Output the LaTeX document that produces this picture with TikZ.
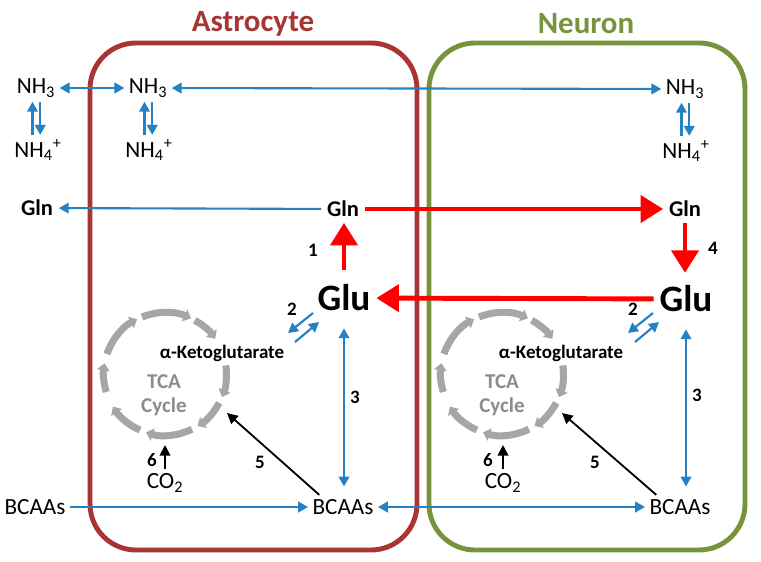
\documentclass[tikz,border=0pt]{standalone}
\usepackage{fontspec}
\setmainfont{Carlito}
\usetikzlibrary{arrows.meta}
\definecolor{astro}{HTML}{A83434}
\definecolor{neur}{HTML}{77933C}
\definecolor{cblue}{HTML}{2481C4}
\definecolor{cred}{HTML}{FF0000}
\definecolor{cgray}{HTML}{A6A6A6}
\definecolor{tgray}{HTML}{8C8C8C}
\tikzset{
  met/.style={font=\fontsize{16.5}{18}\selectfont, inner sep=3pt},
  gln/.style={font=\bfseries\fontsize{16}{18}\selectfont, inner sep=4pt},
  glu/.style={font=\bfseries\fontsize{26.5}{29}\selectfont, inner sep=4pt},
  akg/.style={font=\bfseries\fontsize{13.5}{15}\selectfont},
  tca/.style={font=\bfseries\fontsize{15}{17}\selectfont, text=tgray, align=center},
  num/.style={font=\bfseries\fontsize{13.5}{15}\selectfont},
  title/.style={font=\bfseries\fontsize{22}{24}\selectfont},
  cell/.style={line width=3.5pt, rounded corners=1.15cm},
  bl/.style={draw=cblue, line width=1.5pt, -{Triangle[width=7.5pt,length=7pt]}},
  bll/.style={draw=cblue, line width=1.5pt, {Triangle[width=7.5pt,length=7pt]}-{Triangle[width=7.5pt,length=7pt]}},
  rd/.style={draw=cred, line width=3.5pt, -{Triangle[width=19pt,length=16pt]}},
  bk/.style={draw=black, line width=1.3pt, -{Triangle[width=7.5pt,length=7.5pt]}},
  cyc/.style={draw=cgray, line width=5pt, -{Triangle[width=9pt,length=5pt]}},
}
\begin{document}
\begin{tikzpicture}[x=0.025cm,y=0.025cm]
\useasboundingbox (0,0) rectangle (761,561);
\draw[cell, astro] (90,11) rectangle (417,518);
\draw[cell, neur] (429,11) rectangle (745,518);
\node[title, text=astro] (tA) at (253,537) {Astrocyte};
\node[title, text=neur] (tN) at (586,537) {Neuron};

\node[met] (nh3L) at (36,473) {NH\textsubscript{3}};
\node[met] (nh3A) at (148,473) {NH\textsubscript{3}};
\node[met] (nh3N) at (685,472) {NH\textsubscript{3}};
\node[met] (nh4L) at (38,411) {NH\textsubscript{4}\textsuperscript{+}};
\node[met] (nh4A) at (149,411) {NH\textsubscript{4}\textsuperscript{+}};
\node[met] (nh4N) at (686,410) {NH\textsubscript{4}\textsuperscript{+}};
\node[gln] (glnL) at (37,353) {Gln};
\node[gln] (glnA) at (343,352) {Gln};
\node[gln] (glnN) at (685,352) {Gln};
\node[glu] (gluA) at (344,263) {Glu};
\node[glu] (gluN) at (686,262) {Glu};
\node[akg] (akgA) at (222,208) {α-Ketoglutarate};
\node[akg] (akgN) at (561,208) {α-Ketoglutarate};
\node[tca] (tcaA) at (164,166) {TCA\\Cycle};
\node[tca] (tcaN) at (502,166) {TCA\\Cycle};
\node[met] (co2A) at (165,78) {CO\textsubscript{2}};
\node[met] (co2N) at (503,78) {CO\textsubscript{2}};
\node[met] (bcaaL) at (35,54) {BCAAs};
\node[met] (bcaaA) at (343,54) {BCAAs};
\node[met] (bcaaN) at (680,54) {BCAAs};

\node[num] (n1) at (313,311) {1};
\node[num] (n4) at (713,313) {4};
\node[num] (n2A) at (292,252) {2};
\node[num] (n2N) at (633,252) {2};
\node[num] (n3A) at (355,164) {3};
\node[num] (n3N) at (697,166) {3};
\node[num] (n5A) at (260,99) {5};
\node[num] (n5N) at (595,99) {5};
\node[num] (n6A) at (152,101) {6};
\node[num] (n6N) at (488,101) {6};

\foreach \c in {165,502}{
  \foreach \s/\e in {112/65,61/35,8/-22,-28/-58,-64/-108,-114/-148,-163/-190,161/117}
    \draw[cyc] ([shift={(\s:1.535cm)}]\c,187) arc[start angle=\s, end angle=\e, radius=1.535cm];
}

\coordinate (hit5A) at (227,148);
\coordinate (hit5N) at (562,148);
\coordinate (hit6A) at (165,116);
\coordinate (hit6N) at (503,116);
\coordinate (eqA1) at (313,248);
\coordinate (eqA2) at (288,228);
\coordinate (eqA3) at (295,219);
\coordinate (eqA4) at (319,239);
\coordinate (eqN1) at (653,248);
\coordinate (eqN2) at (628,228);
\coordinate (eqN3) at (635,219);
\coordinate (eqN4) at (659,239);

\foreach \n in {L,A,N}{
  \draw[bl] ([xshift=-2.5pt]nh3\n.south |- nh4\n.north) -- ([xshift=-2.5pt]nh3\n.south);
  \draw[bl] ([xshift=3pt]nh3\n.south) -- ([xshift=3pt]nh3\n.south |- nh4\n.north);
}
\draw[bll] (nh3L) -- (nh3A);
\draw[bll] (nh3A) -- (nh3N);
\draw[bl] (glnA) -- (glnL);
\draw[rd] (glnA) -- (glnN);
\draw[rd] (gluN) -- (gluA);
\draw[rd, shorten <=6pt] (gluA.north) -- (gluA.north |- glnA.south);
\draw[rd, shorten >=5pt] (glnN.south) -- (glnN.south |- gluN.north);
\draw[bl] (eqA1) -- (eqA2);
\draw[bl] (eqA3) -- (eqA4);
\draw[bl] (eqN1) -- (eqN2);
\draw[bl] (eqN3) -- (eqN4);
\draw[bll, shorten <=8pt, shorten >=6pt] (gluA.south) -- (gluA.south |- bcaaA.north);
\draw[bll, shorten <=8pt, shorten >=6pt] (gluN.south) -- (gluN.south |- bcaaN.north);
\draw[bl] (bcaaL) -- (bcaaA);
\draw[bll] (bcaaA) -- (bcaaN);
\draw[bk] ([xshift=8pt]bcaaA.north west) -- (hit5A);
\draw[bk] ([xshift=8pt]bcaaN.north west) -- (hit5N);
\draw[bk] (co2A) -- (hit6A);
\draw[bk] (co2N) -- (hit6N);
\end{tikzpicture}
\end{document}
